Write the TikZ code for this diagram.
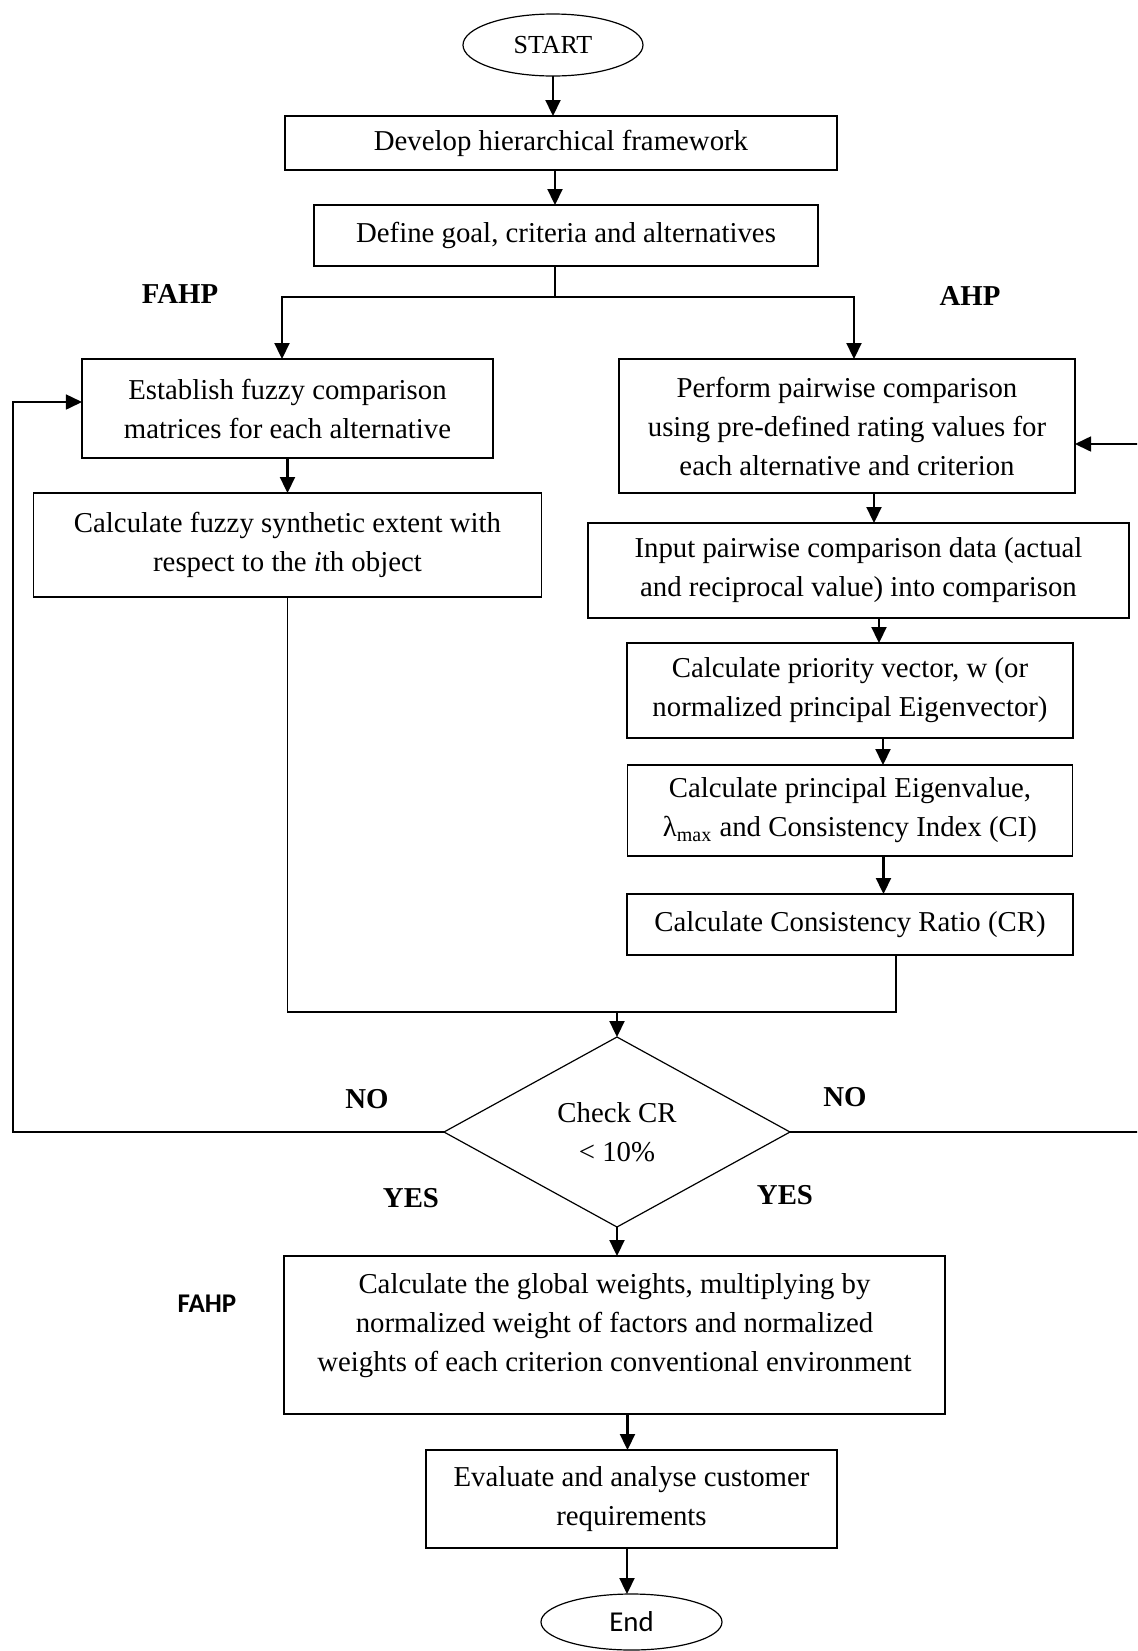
\documentclass[tikz,border=0pt]{standalone}
\usepackage{fontspec}
\setmainfont{Liberation Serif}
\newfontfamily\calibri{Carlito}
\usepackage{tikz}
\usetikzlibrary{arrows.meta,positioning,shapes.geometric,calc}

\begin{document}
\begin{tikzpicture}[
  font=\fontsize{14.4}{19.5}\selectfont,
  box/.style={draw, line width=0.6pt, align=center, inner sep=2pt, outer sep=0pt},
  term/.style={draw, ellipse, line width=0.6pt, inner sep=0pt, outer sep=0pt, minimum width=90pt, minimum height=31pt},
  decide/.style={draw, diamond, aspect=1.8, line width=0.6pt, align=center, inner sep=0pt, outer sep=0pt, minimum width=173pt, minimum height=95pt},
  tag/.style={font=\fontsize{14.4}{17}\selectfont\bfseries},
  arr/.style={-{Triangle[length=8pt,width=7.5pt]}, line width=1.1pt},
  link/.style={line width=0.8pt}
]
\coordinate (nw) at (-276.5pt,22.5pt);
\coordinate (se) at (292pt,-803pt);
\useasboundingbox (nw) rectangle (se);
\clip (nw) rectangle (se);

% main column
\node[term, font=\fontsize{13}{15}\selectfont] (start) at (0,0) {START};
\node[box, minimum width=276pt, minimum height=27pt, below=20pt of start, xshift=4pt] (develop) {Develop hierarchical framework};
\node[box, minimum width=252pt, minimum height=30.5pt, below=17.5pt of develop, xshift=2.5pt] (define) {Define goal, criteria and alternatives};

% FAHP branch
\node[box, minimum width=205.5pt, minimum height=49.5pt, below=46.5pt of define, xshift=-139.25pt] (establish) {Establish fuzzy comparison\\matrices for each alternative};
\node[box, minimum width=254pt, minimum height=52pt, below=17.5pt of establish] (fuzzy) {Calculate fuzzy synthetic extent with\\respect to the \textit{i}th object};

% AHP branch
\node[box, minimum width=228pt, minimum height=67pt, below=46.5pt of define, xshift=140.5pt] (perform) {Perform pairwise comparison\\using pre-defined rating values for\\each alternative and criterion};
\node[box, minimum width=270.5pt, minimum height=47.5pt, below=15pt of perform, xshift=5.75pt] (input) {Input pairwise comparison data (actual\\and reciprocal value) into comparison};
\node[box, minimum width=223pt, minimum height=47.5pt, below=12.5pt of input, xshift=-4.25pt] (priority) {Calculate priority vector, w (or\\normalized principal Eigenvector)};
\node[box, minimum width=222.5pt, minimum height=45.5pt, below=13.5pt of priority] (eigen) {Calculate principal Eigenvalue,\\λ\textsubscript{max} and Consistency Index (CI)};
\node[box, minimum width=223pt, minimum height=30.5pt, below=19pt of eigen] (cr) {Calculate Consistency Ratio (CR)};

% decision and final steps
\node[decide, below=41pt of cr, xshift=-116.5pt] (check) {Check CR\\< 10\%};
\node[box, minimum width=330.5pt, minimum height=79pt, below=14.5pt of check, xshift=-1.25pt] (global) {Calculate the global weights, multiplying by\\normalized weight of factors and normalized\\weights of each criterion conventional environment\\[-6.5pt]\mbox{}};
\node[box, minimum width=205.5pt, minimum height=49pt, below=18pt of global, xshift=8.5pt] (evaluate) {Evaluate and analyse customer\\requirements};
\node[term, font=\calibri\fontsize{14.4}{17}\selectfont, minimum width=90.5pt, minimum height=28pt, below=23pt of evaluate] (end) {End};

% labels
\node[tag] (fahpA) at (-186.5pt,-124.5pt) {FAHP};
\node[tag] (ahp) at (208.5pt,-125.5pt) {AHP};
\node[tag] (noL) at (-93pt,-527pt) {NO};
\node[tag] (noR) at (146pt,-526pt) {NO};
\node[tag] (yesL) at (-71pt,-576.5pt) {YES};
\node[tag] (yesR) at (116pt,-575pt) {YES};
\node[font=\calibri\bfseries\fontsize{13.5}{16}\selectfont] (fahpB) at (-173pt,-629.5pt) {FAHP};

% connectors
\draw[arr] (start) -- (start |- develop.north);
\draw[arr] ([xshift=-3pt]develop.south) -- ([xshift=-3pt]develop.south |- define.north);
\coordinate (split) at ($(define.south)+(-5.5pt,-15.5pt)$);
\draw[link] ([xshift=-5.5pt]define.south) -- (split);
\draw[arr] (split) -| ([xshift=-2.75pt]establish.north);
\draw[arr] (split) -| ([xshift=3.5pt]perform.north);
\draw[arr] (establish) -- (fuzzy);
\draw[arr] ([xshift=13.5pt]perform.south) -- ([xshift=13.5pt]perform.south |- input.north);
\draw[arr] ([xshift=10.25pt]input.south) -- ([xshift=10.25pt]input.south |- priority.north);
\draw[arr] ([xshift=16.5pt]priority.south) -- ([xshift=16.5pt]priority.south |- eigen.north);
\draw[arr] ([xshift=16.75pt]eigen.south) -- ([xshift=16.75pt]eigen.south |- cr.north);
\coordinate (join) at ($(check.north)+(0,12.5pt)$);
\draw[link] (fuzzy.south) -- (fuzzy.south |- join) -- ([xshift=23pt]cr.south |- join) -- ([xshift=23pt]cr.south);
\draw[arr] (join) -- (check.north);
\coordinate (loopL) at (-270pt,0);
\coordinate (loopR) at (300pt,0);
\draw[arr, line width=0.8pt] (check.west) -- (check.west -| loopL) |- ([yshift=3.25pt]establish.west);
\draw[arr, line width=0.8pt] (check.east) -- (check.east -| loopR) |- ([yshift=-9pt]perform.east);
\draw[arr] (check.south) -- (check.south |- global.north);
\draw[arr] ([xshift=6.5pt]global.south) -- ([xshift=6.5pt]global.south |- evaluate.north);
\draw[arr] ([xshift=-2.25pt]evaluate.south) -- ([xshift=-2.25pt]evaluate.south |- end.north);
\end{tikzpicture}
\end{document}
